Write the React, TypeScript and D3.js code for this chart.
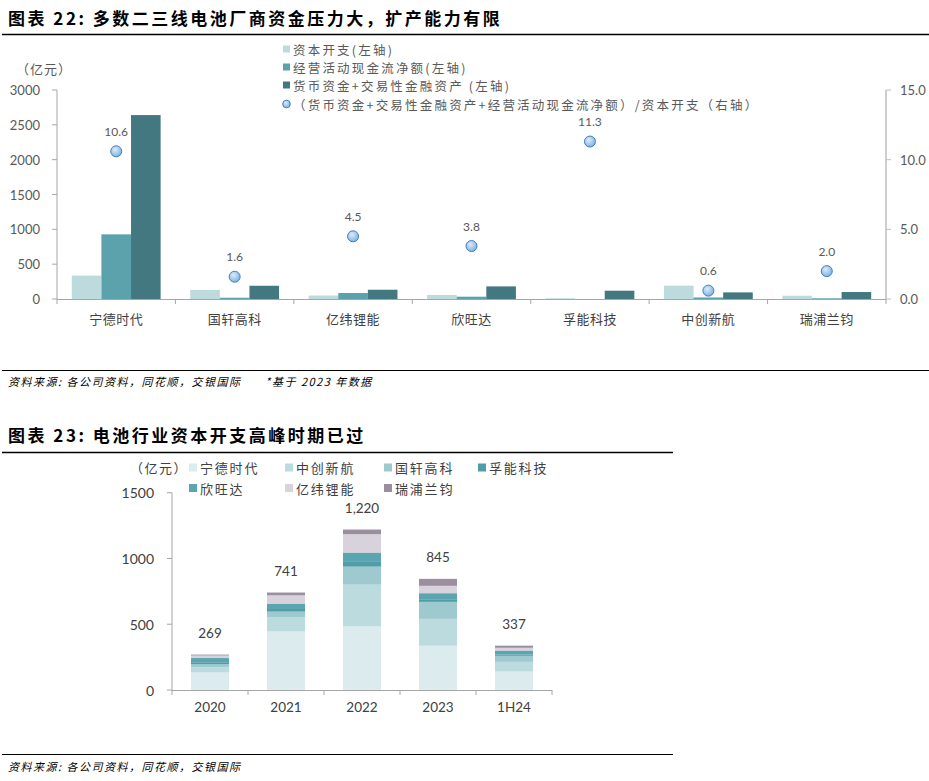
import React, { useEffect, useRef } from 'react';
import * as d3 from 'd3';

// ---- Chart 22 data ----
const companies1 = ['宁德时代', '国轩高科', '亿纬锂能', '欣旺达', '孚能科技', '中创新航', '瑞浦兰钧'];
const capex1 = [336, 130, 50, 57, 10, 191, 47];
const opCash1 = [928, 18, 86, 33, 0, 22, 10];
const cashAssets1 = [2640, 190, 133, 181, 119, 95, 100];
const ratio1 = [10.6, 1.6, 4.5, 3.8, 11.3, 0.6, 2.0];
const leftTicks1 = [0, 500, 1000, 1500, 2000, 2500, 3000];
const rightTicks1 = [0, 5, 10, 15];
const barNames1 = ['资本开支(左轴)', '经营活动现金流净额(左轴)', '货币资金+交易性金融资产 (左轴)'];
const dotName1 = '（货币资金+交易性金融资产+经营活动现金流净额）/资本开支（右轴）';

// ---- Chart 23 data ----
const periods2 = ['2020', '2021', '2022', '2023', '1H24'];
const companies2 = ['宁德时代', '中创新航', '国轩高科', '孚能科技', '欣旺达', '亿纬锂能', '瑞浦兰钧'];
const catl2 = [133, 445, 483, 336, 140];
const calb2 = [39, 107, 318, 205, 74];
const gotion2 = [25, 44, 137, 129, 46];
const farasis2 = [14, 20, 36, 20, 10];
const sunwoda2 = [32, 41, 71, 46, 30];
const eve2 = [19, 63, 140, 56, 21];
const rept2 = [7, 21, 35, 53, 16];
const totals2 = [269, 741, 1220, 845, 337];
const yTicks2 = [0, 500, 1000, 1500];

const CJK = '"Noto Sans CJK SC", "Noto Sans", sans-serif';
const NUM = 'Lato, "Noto Sans CJK SC", sans-serif';

const App: React.FC = () => {
  const svgRef = useRef<SVGSVGElement>(null);

  useEffect(() => {
    if (!svgRef.current) return;
    const svg = d3.select(svgRef.current);
    svg.selectAll('*').remove();

    const axisGray = '#a6a6a6';
    const textGray = '#595959';

    // ===================== Chart 22 =====================
    svg.append('text')
      .attr('x', 8).attr('y', 17)
      .attr('dominant-baseline', 'central')
      .attr('font-family', CJK).attr('font-weight', 'bold').attr('font-size', 17)
      .attr('letter-spacing', 2.5)
      .text('图表 22: 多数二三线电池厂商资金压力大，扩产能力有限');
    svg.append('line').attr('x1', 2).attr('x2', 929).attr('y1', 34.5).attr('y2', 34.5)
      .attr('stroke', '#000').attr('stroke-width', 1.3);

    const g1 = svg.append('g');
    const x0 = d3.scaleBand<string>().domain(companies1).range([57, 886]).padding(0);
    const keys1 = ['capex', 'op', 'cash'];
    const x1 = d3.scaleBand<string>().domain(keys1).range([0, x0.bandwidth()]).paddingInner(0).paddingOuter(0.5);
    const yL = d3.scaleLinear().domain([0, 3000]).range([299, 90]);
    const yR = d3.scaleLinear().domain([0, 15]).range([299, 90]);
    const colors1 = ['#bddadc', '#5ba2ac', '#437880'];
    const series1 = [capex1, opCash1, cashAssets1];

    // bars
    series1.forEach((vals, si) => {
      g1.selectAll(`rect.s${si}`)
        .data(vals)
        .enter()
        .append('rect')
        .attr('x', (_, i) => (x0(companies1[i]) as number) + (x1(keys1[si]) as number))
        .attr('width', x1.bandwidth())
        .attr('y', d => yL(d))
        .attr('height', d => yL(0) - yL(d))
        .attr('fill', colors1[si]);
    });

    // left axis
    g1.append('line').attr('x1', 57).attr('x2', 57).attr('y1', 90).attr('y2', 299)
      .attr('stroke', axisGray);
    leftTicks1.forEach(t => {
      g1.append('line').attr('x1', 52).attr('x2', 57).attr('y1', yL(t)).attr('y2', yL(t)).attr('stroke', axisGray);
      g1.append('text').attr('x', 40).attr('y', yL(t)).attr('text-anchor', 'end')
        .attr('dominant-baseline', 'central').attr('font-family', NUM).attr('font-size', 13)
        .attr('fill', textGray).text(t);
    });
    // right axis
    g1.append('line').attr('x1', 886).attr('x2', 886).attr('y1', 90).attr('y2', 299)
      .attr('stroke', '#bfbfbf').attr('stroke-width', 1.5);
    rightTicks1.forEach(t => {
      g1.append('line').attr('x1', 886).attr('x2', 891).attr('y1', yR(t)).attr('y2', yR(t)).attr('stroke', '#bfbfbf');
      g1.append('text').attr('x', 900).attr('y', yR(t))
        .attr('dominant-baseline', 'central').attr('font-family', NUM).attr('font-size', 13)
        .attr('fill', textGray).text(d3.format('.1f')(t));
    });
    // category axis
    g1.append('line').attr('x1', 57).attr('x2', 886).attr('y1', 299.5).attr('y2', 299.5)
      .attr('stroke', axisGray);
    companies1.forEach((c, i) => {
      const bx = x0(c) as number;
      g1.append('line').attr('x1', bx).attr('x2', bx).attr('y1', 299).attr('y2', 304).attr('stroke', axisGray);
      if (i === companies1.length - 1) {
        g1.append('line').attr('x1', bx + x0.bandwidth()).attr('x2', bx + x0.bandwidth())
          .attr('y1', 299).attr('y2', 304).attr('stroke', axisGray);
      }
      g1.append('text').attr('x', bx + x0.bandwidth() / 2).attr('y', 318)
        .attr('text-anchor', 'middle').attr('dominant-baseline', 'central')
        .attr('font-family', CJK).attr('font-size', 13).attr('letter-spacing', 0.5)
        .attr('fill', '#404040').text(c);
    });

    // ratio dots
    const defs = svg.append('defs');
    const grad = defs.append('radialGradient').attr('id', 'dotGrad').attr('cx', '40%').attr('cy', '35%').attr('r', '65%');
    grad.append('stop').attr('offset', '0%').attr('stop-color', '#dcebfa');
    grad.append('stop').attr('offset', '100%').attr('stop-color', '#7fb2e3');
    ratio1.forEach((r, i) => {
      const cx = (x0(companies1[i]) as number) + x0.bandwidth() / 2;
      g1.append('circle').attr('cx', cx).attr('cy', yR(r)).attr('r', 5.5)
        .attr('fill', 'url(#dotGrad)').attr('stroke', '#3f7fc0').attr('stroke-width', 1);
      g1.append('text').attr('x', cx).attr('y', yR(r) - 20)
        .attr('text-anchor', 'middle').attr('dominant-baseline', 'central')
        .attr('font-family', NUM).attr('font-size', 12).attr('fill', textGray)
        .text(d3.format('.1f')(r));
    });

    // legend
    const legRows = [49, 67, 85, 104];
    barNames1.forEach((n, i) => {
      g1.append('rect').attr('x', 283).attr('y', legRows[i] - 3.5).attr('width', 7).attr('height', 7)
        .attr('fill', colors1[i]);
      g1.append('text').attr('x', 293).attr('y', legRows[i]).attr('dominant-baseline', 'central')
        .attr('font-family', CJK).attr('font-size', 12.5).attr('letter-spacing', 2.2)
        .attr('xml:space', 'preserve')
        .attr('fill', textGray).text(n);
    });
    g1.append('circle').attr('cx', 286.5).attr('cy', legRows[3]).attr('r', 3.8)
      .attr('fill', 'url(#dotGrad)').attr('stroke', '#3f7fc0');
    g1.append('text').attr('x', 293).attr('y', legRows[3]).attr('dominant-baseline', 'central')
      .attr('font-family', CJK).attr('font-size', 12.5).attr('letter-spacing', 2.2)
      .attr('fill', textGray).text(dotName1);

    g1.append('text').attr('x', 16).attr('y', 68).attr('dominant-baseline', 'central')
      .attr('font-family', CJK).attr('font-size', 13).attr('letter-spacing', 1)
      .attr('fill', textGray).text('（亿元）');

    // footer
    svg.append('line').attr('x1', 2).attr('x2', 929).attr('y1', 370.5).attr('y2', 370.5)
      .attr('stroke', '#000').attr('stroke-width', 1);
    svg.append('text').attr('x', 8).attr('y', 381).attr('dominant-baseline', 'central')
      .attr('font-family', CJK).attr('font-size', 11).attr('font-style', 'italic')
      .attr('letter-spacing', 1.5)
      .attr('xml:space', 'preserve')
      .text('资料来源: 各公司资料，同花顺，交银国际      *基于 2023 年数据');

    // ===================== Chart 23 =====================
    svg.append('text')
      .attr('x', 8).attr('y', 434)
      .attr('dominant-baseline', 'central')
      .attr('font-family', CJK).attr('font-weight', 'bold').attr('font-size', 17)
      .attr('letter-spacing', 2.5)
      .text('图表 23: 电池行业资本开支高峰时期已过');
    svg.append('line').attr('x1', 2).attr('x2', 673).attr('y1', 452.5).attr('y2', 452.5)
      .attr('stroke', '#000').attr('stroke-width', 1.3);

    const g2 = svg.append('g');
    const xs = d3.scaleBand<string>().domain(periods2).range([172, 552]).paddingInner(0.5).paddingOuter(0.25);
    const y2 = d3.scaleLinear().domain([0, 1500]).range([690, 492.7]);
    const colors2 = ['#dcebee', '#bcdbdf', '#9dc9cf', '#4f9da7', '#5aa5af', '#d7d2db', '#9b8e9e'];
    const rows2 = [catl2, calb2, gotion2, farasis2, sunwoda2, eve2, rept2];
    const table = periods2.map((p, i) => {
      const o: Record<string, number | string> = { period: p };
      companies2.forEach((c, ci) => { o[c] = rows2[ci][i]; });
      return o;
    });
    const stacked = d3.stack<Record<string, number | string>>().keys(companies2)(table as any);

    stacked.forEach((layer, li) => {
      g2.selectAll(`rect.l${li}`)
        .data(layer)
        .enter()
        .append('rect')
        .attr('x', d => xs(d.data.period as string) as number)
        .attr('width', xs.bandwidth())
        .attr('y', d => y2(d[1]))
        .attr('height', d => y2(d[0]) - y2(d[1]))
        .attr('fill', colors2[li]);
    });

    totals2.forEach((t, i) => {
      g2.append('text').attr('x', (xs(periods2[i]) as number) + xs.bandwidth() / 2).attr('y', y2(t) - 22)
        .attr('text-anchor', 'middle').attr('dominant-baseline', 'central')
        .attr('font-family', NUM).attr('font-size', 13.5).attr('fill', '#404040')
        .text(d3.format(',')(t));
    });

    // axes
    g2.append('line').attr('x1', 172).attr('x2', 172).attr('y1', 492.7).attr('y2', 690)
      .attr('stroke', axisGray);
    yTicks2.forEach(t => {
      g2.append('line').attr('x1', 167).attr('x2', 172).attr('y1', y2(t)).attr('y2', y2(t)).attr('stroke', axisGray);
      g2.append('text').attr('x', 154).attr('y', y2(t)).attr('text-anchor', 'end')
        .attr('dominant-baseline', 'central').attr('font-family', NUM).attr('font-size', 14)
        .attr('fill', '#404040').text(t);
    });
    g2.append('line').attr('x1', 172).attr('x2', 552).attr('y1', 690.5).attr('y2', 690.5)
      .attr('stroke', axisGray);
    periods2.forEach((p, i) => {
      const bx = 172 + i * xs.step();
      g2.append('line').attr('x1', bx).attr('x2', bx).attr('y1', 690).attr('y2', 695).attr('stroke', axisGray);
      if (i === periods2.length - 1) {
        g2.append('line').attr('x1', bx + xs.step()).attr('x2', bx + xs.step())
          .attr('y1', 690).attr('y2', 695).attr('stroke', axisGray);
      }
      g2.append('text').attr('x', (xs(p) as number) + xs.bandwidth() / 2).attr('y', 707)
        .attr('text-anchor', 'middle').attr('dominant-baseline', 'central')
        .attr('font-family', NUM).attr('font-size', 13.5).attr('fill', '#404040').text(p);
    });

    // legend
    g2.append('text').attr('x', 130).attr('y', 467).attr('dominant-baseline', 'central')
      .attr('font-family', CJK).attr('font-size', 13).attr('letter-spacing', 1.5)
      .attr('fill', '#404040').text('（亿元）');
    const legX = [189, 285, 384, 478];
    companies2.forEach((c, i) => {
      const lx = legX[i % 4];
      const ly = i < 4 ? 467.5 : 488;
      g2.append('rect').attr('x', lx).attr('y', ly - 4).attr('width', 8).attr('height', 8).attr('fill', colors2[i]);
      g2.append('text').attr('x', lx + 11).attr('y', ly).attr('dominant-baseline', 'central')
        .attr('font-family', CJK).attr('font-size', 13).attr('letter-spacing', 1.8)
        .attr('fill', '#404040').text(c);
    });

    // footer
    svg.append('line').attr('x1', 2).attr('x2', 673).attr('y1', 754.5).attr('y2', 754.5)
      .attr('stroke', '#000').attr('stroke-width', 1);
    svg.append('text').attr('x', 8).attr('y', 766).attr('dominant-baseline', 'central')
      .attr('font-family', CJK).attr('font-size', 11).attr('font-style', 'italic')
      .attr('letter-spacing', 1.5)
      .text('资料来源: 各公司资料，同花顺，交银国际');
  }, []);

  return (
    <div style={{ position: 'absolute', left: 0, top: 0, background: '#fff' }}>
      <svg ref={svgRef} width={929} height={781} style={{ display: 'block' }} />
    </div>
  );
};

export default App;
